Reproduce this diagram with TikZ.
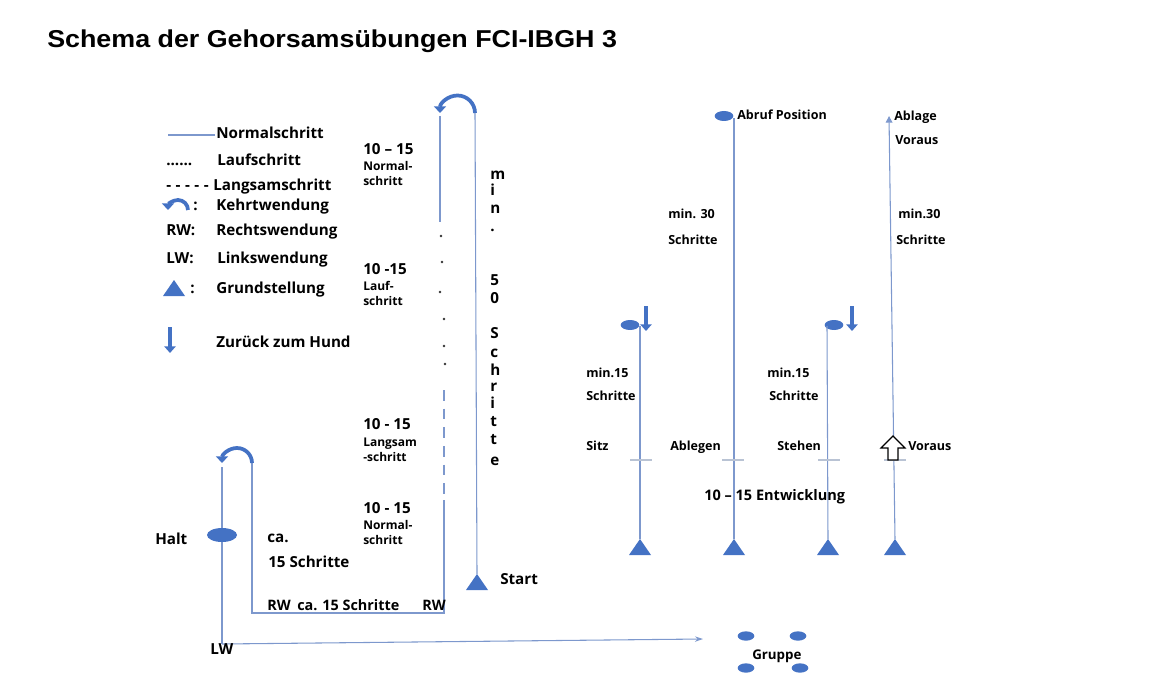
\documentclass[tikz,border=0pt]{standalone}
\usepackage{fontspec}
\setmainfont{Open Sans}
\newfontfamily\titlefont{Liberation Sans}[FakeStretch=1.1]
\usetikzlibrary{arrows.meta,shapes.geometric}
\definecolor{sblue}{RGB}{68,114,196}
\definecolor{lblue}{RGB}{125,152,205}
\definecolor{tickc}{RGB}{185,195,212}
\newcommand\mytri[3]{\fill[sblue] (#1-11,#2) -- (#1+11,#2) -- (#1,#2-16) -- cycle; \coordinate (#3) at (#1,#2-16);}
\begin{document}
\begin{tikzpicture}[x=0.75pt,y=-0.75pt,
  lbl/.style={font=\bfseries\fontsize{11.4}{13}\selectfont, inner sep=0pt, anchor=base west},
  num/.style={font=\bfseries\fontsize{11.4}{13}\selectfont, inner sep=0pt, anchor=base west},
  sml/.style={font=\bfseries\fontsize{9}{11}\selectfont, inner sep=0pt, anchor=base west},
  rlbl/.style={font=\bfseries\fontsize{9.4}{11}\selectfont, inner sep=0pt, anchor=base west},
  pline/.style={draw=lblue, line width=0.8pt},
  kehr/.style={draw=sblue, line width=2.8pt, -{Triangle[width=9pt,length=5pt]}},
  downarr/.style={draw=sblue, line width=3.6pt, -{Triangle[width=8.5pt,length=5pt]}},
  blob/.style={ellipse, fill=sblue, inner sep=0pt},
  tick/.style={draw=tickc, line width=0.8pt}]
\useasboundingbox (0,0) rectangle (1150,688);

% title
\node[inner sep=0pt, anchor=base west, font=\titlefont\bfseries\fontsize{18.3}{20}\selectfont] (title) at (47,48) {Schema der Gehorsamsübungen FCI-IBGH 3};

% legend
\coordinate (lg1) at (168,135);
\coordinate (lg2) at (215,135);
\draw[pline] (lg1) -- (lg2);
\node[lbl] (lNormal) at (216,139) {Normalschritt};
\node[lbl] (lDots) at (166,166) {......};
\node[lbl] (lLauf) at (217,166) {Laufschritt};
\foreach \i in {0,...,4}
  \node[lbl] (lDash\i) at (166+9.4*\i,191) {-};
\node[lbl] (lLangsam) at (213,191) {Langsamschritt};
\draw[kehr] (188,210) arc[start angle=0,end angle=-180,radius=10];
\node[lbl] (lKcol) at (193,210) {:};
\node[lbl] (lKehrt) at (216,210) {Kehrtwendung};
\node[lbl] (lRWk) at (166,236) {RW:};
\node[lbl] (lRW) at (216,236) {Rechtswendung};
\node[lbl] (lLWk) at (166,263) {LW:};
\node[lbl] (lLW) at (217,263) {Linkswendung};
\mytri{174}{296}{lgTri}
\node[lbl] (lGcol) at (190,293) {:};
\node[lbl] (lGrund) at (216,293) {Grundstellung};
\draw[downarr] (170,327) -- (170,353);
\node[lbl] (lZur) at (216,347) {Zurück zum Hund};

% main path
\mytri{477}{590}{start}
\node[lbl] (startlbl) at (500,584) {Start};
\coordinate (topR) at (475,113);
\draw[pline] (start) -- (topR);
\draw[kehr] (topR) arc[start angle=0,end angle=-180,radius=17.5];
\coordinate (topL) at (440,116);
\coordinate (topLend) at (440,222);
\draw[pline] (topL) -- (topLend);
\foreach \dx/\dy in {441/236,442/262,440/292,444/319,444/346,445/364}
  \fill[black!80] (\dx,\dy) circle[radius=1.3];
\coordinate (dashA) at (444,390);
\coordinate (dashB) at (444,500);
\draw[pline, dash pattern=on 8pt off 6pt] (dashA) -- (dashB);
\coordinate (brR) at (444,613);
\coordinate (brL) at (252,613);
\coordinate (arcR) at (252,463);
\draw[pline] (dashB) -- (brR) -- (brL) -- (arcR);
\draw[kehr] (arcR) arc[start angle=0,end angle=-180,radius=15];
\coordinate (arcL) at (222,467);
\coordinate (lwc) at (222,644);
\coordinate (grpArr) at (703,639);
\draw[pline] (arcL) -- (lwc);
\draw[pline, -{Stealth[length=6pt,width=4pt]}] (lwc) -- (grpArr);
\node[blob, minimum width=22.5pt, minimum height=10.5pt] (halt) at (222,535) {};

% main path labels
\node[num] (n1a) at (363,155) {10 – 15};
\node[sml] (n1b) at (363,171) {Normal-};
\node[sml] (n1c) at (363,186) {schritt};
\node[num] (n2a) at (363,274) {10 -15};
\node[sml] (n2b) at (363,290) {Lauf-};
\node[sml] (n2c) at (363,305) {schritt};
\node[num] (n3a) at (363,429) {10 - 15};
\node[sml] (n3b) at (363,446) {Langsam};
\node[sml] (n3c) at (363,461) {-schritt};
\node[num] (n4a) at (363,513) {10 - 15};
\node[sml] (n4b) at (363,529) {Normal-};
\node[sml] (n4c) at (363,544) {schritt};
\foreach \ch/\yy [count=\i] in {m/180,i/196,n/214,./232,5/286,0/303,S/338,c/357,h/375,r/391,i/408,t/426,t/444,e/465}
  \node[lbl] (v\i) at (490,\yy) {\ch};
\node[lbl] (haltlbl) at (155,544) {Halt};
\node[lbl] (ca) at (267,542) {ca.};
\node[lbl] (fifteen) at (268,567) {15 Schritte};
\node[lbl, font=\bfseries\fontsize{10.8}{12}\selectfont] (rw1) at (267,610) {RW};
\node[lbl, font=\bfseries\fontsize{10.8}{12}\selectfont] (ca15) at (297,610) {ca. 15 Schritte};
\node[lbl, anchor=base east, font=\bfseries\fontsize{10.8}{12}\selectfont] (rw2) at (446,610) {RW};
\node[lbl] (lwlbl) at (210,654) {LW};

% right section
\mytri{640}{555}{t1}
\mytri{734}{555}{t2}
\mytri{828}{555}{t3}
\mytri{895}{555}{t4}
\node[blob, minimum width=14pt, minimum height=7.5pt] (e1) at (630,325) {};
\node[blob, minimum width=14pt, minimum height=7.5pt] (abruf) at (724,116) {};
\node[blob, minimum width=14pt, minimum height=7.5pt] (e3) at (834,325) {};
\coordinate (l1top) at (640,326);
\coordinate (l2top) at (734,118);
\coordinate (l3top) at (827,326);
\coordinate (l4top) at (889,116);
\draw[pline] (t1) -- (l1top);
\draw[pline] (t2) -- (l2top);
\draw[pline] (t3) -- (l3top);
\draw[pline, -{Triangle[length=5pt,width=5pt]}] (t4) -- (l4top);
\draw[downarr] (646,306) -- (646,331);
\draw[downarr] (852,306) -- (852,331);
\foreach \tx in {641,733,829,895}
  \draw[tick] (\tx-11,460) -- (\tx+11,460);
% hollow arrow
\draw[black, line width=0.9pt, fill=white] (881,448) -- (893,436) -- (905,448) -- (898,448) -- (898,460) -- (888,460) -- (888,448) -- cycle;

\node[rlbl] (abruflbl) at (737,120) {Abruf Position};
\node[rlbl] (ablage) at (894,121) {Ablage};
\node[rlbl] (voraus1) at (895,145) {Voraus};
\node[rlbl] (m30a) at (668,219) {min. 30};
\node[rlbl] (m30b) at (668,244) {Schritte};
\node[rlbl] (m30c) at (898,219) {min.30};
\node[rlbl] (m30d) at (896,244) {Schritte};
\node[rlbl] (m15a) at (586,377) {min.15};
\node[rlbl] (m15b) at (586,400) {Schritte};
\node[rlbl] (m15c) at (767,377) {min.15};
\node[rlbl] (m15d) at (769,400) {Schritte};
\node[rlbl] (sitz) at (586,450) {Sitz};
\node[rlbl] (ablegen) at (670,450) {Ablegen};
\node[rlbl] (stehen) at (777,450) {Stehen};
\node[rlbl] (voraus2) at (908,450) {Voraus};
\node[lbl, font=\bfseries\fontsize{10.9}{12}\selectfont] (entw) at (704,500) {10 – 15 Entwicklung};

% Gruppe
\node[blob, minimum width=12.5pt, minimum height=7pt] (g1) at (746,636) {};
\node[blob, minimum width=12.5pt, minimum height=7pt] (g2) at (798,636) {};
\node[blob, minimum width=12.5pt, minimum height=7pt] (g3) at (746,668) {};
\node[blob, minimum width=12.5pt, minimum height=7pt] (g4) at (800,668) {};
\node[rlbl, font=\bfseries\fontsize{10}{12}\selectfont] (gruppe) at (752,659) {Gruppe};
\end{tikzpicture}
\end{document}
